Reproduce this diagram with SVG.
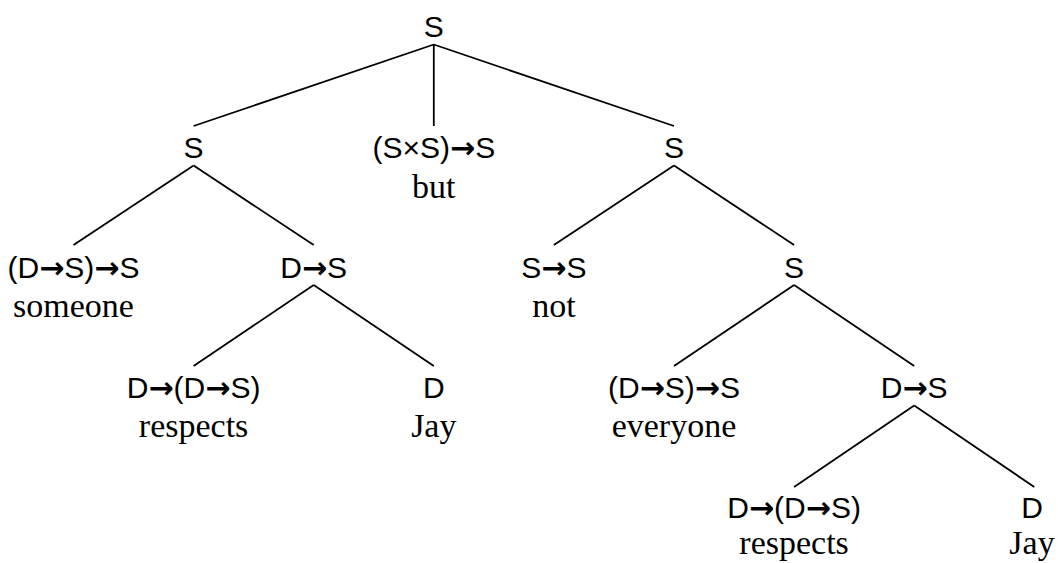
<svg xmlns="http://www.w3.org/2000/svg" width="1058" height="563" viewBox="0 0 1058 563">
<style>
.cat{font-family:"Liberation Sans","DejaVu Sans",sans-serif;font-size:30px;fill:#000;text-anchor:middle}
.ar{font-family:"DejaVu Sans",sans-serif;font-weight:bold}
.w{font-family:"Liberation Serif","DejaVu Serif",serif;font-size:34px;fill:#000;text-anchor:middle}
.e{stroke:#000;stroke-width:1.8;fill:none;stroke-linecap:butt}
</style>
<rect width="1058" height="563" fill="#fff"/>
<g id="connectors" class="e">
<line x1="433.8" y1="44.5" x2="193.6" y2="126"/>
<line x1="433.8" y1="44.5" x2="433.8" y2="126"/>
<line x1="433.8" y1="44.5" x2="674" y2="126"/>
<line x1="193.6" y1="165.5" x2="73.5" y2="245"/>
<line x1="193.6" y1="165.5" x2="313.7" y2="245"/>
<line x1="674" y1="165.5" x2="553.9" y2="245"/>
<line x1="674" y1="165.5" x2="794.1" y2="245"/>
<line x1="313.7" y1="285" x2="193.6" y2="366"/>
<line x1="313.7" y1="285" x2="433.8" y2="366"/>
<line x1="794.1" y1="285" x2="674" y2="366"/>
<line x1="794.1" y1="285" x2="914.2" y2="366"/>
<line x1="914.2" y1="405.5" x2="794.1" y2="487"/>
<line x1="914.2" y1="405.5" x2="1034.3" y2="487"/>
</g>
<g id="n0"><text class="cat" x="433.8" y="37">S</text></g>
<g id="n1"><text class="cat" x="193.6" y="158">S</text></g>
<g id="n2"><text class="cat" x="433.8" y="158">(S×S)<tspan class="ar">→</tspan>S</text><text class="w" x="433.8" y="197.5">but</text></g>
<g id="n3"><text class="cat" x="674" y="158">S</text></g>
<g id="n4"><text class="cat" x="73.5" y="277.5">(D<tspan class="ar">→</tspan>S)<tspan class="ar">→</tspan>S</text><text class="w" x="73.5" y="317">someone</text></g>
<g id="n5"><text class="cat" x="313.7" y="277.5">D<tspan class="ar">→</tspan>S</text></g>
<g id="n6"><text class="cat" x="553.9" y="277.5">S<tspan class="ar">→</tspan>S</text><text class="w" x="553.9" y="317">not</text></g>
<g id="n7"><text class="cat" x="794.1" y="277.5">S</text></g>
<g id="n8"><text class="cat" x="193.6" y="398">D<tspan class="ar">→</tspan>(D<tspan class="ar">→</tspan>S)</text><text class="w" x="193.6" y="437">respects</text></g>
<g id="n9"><text class="cat" x="433.8" y="398">D</text><text class="w" x="433.8" y="437">Jay</text></g>
<g id="n10"><text class="cat" x="674" y="398">(D<tspan class="ar">→</tspan>S)<tspan class="ar">→</tspan>S</text><text class="w" x="674" y="437">everyone</text></g>
<g id="n11"><text class="cat" x="914.2" y="398">D<tspan class="ar">→</tspan>S</text></g>
<g id="n12"><text class="cat" x="794.1" y="518">D<tspan class="ar">→</tspan>(D<tspan class="ar">→</tspan>S)</text><text class="w" x="794.1" y="554">respects</text></g>
<g id="n13"><text class="cat" x="1032" y="518">D</text><text class="w" x="1032" y="554">Jay</text></g>
</svg>
